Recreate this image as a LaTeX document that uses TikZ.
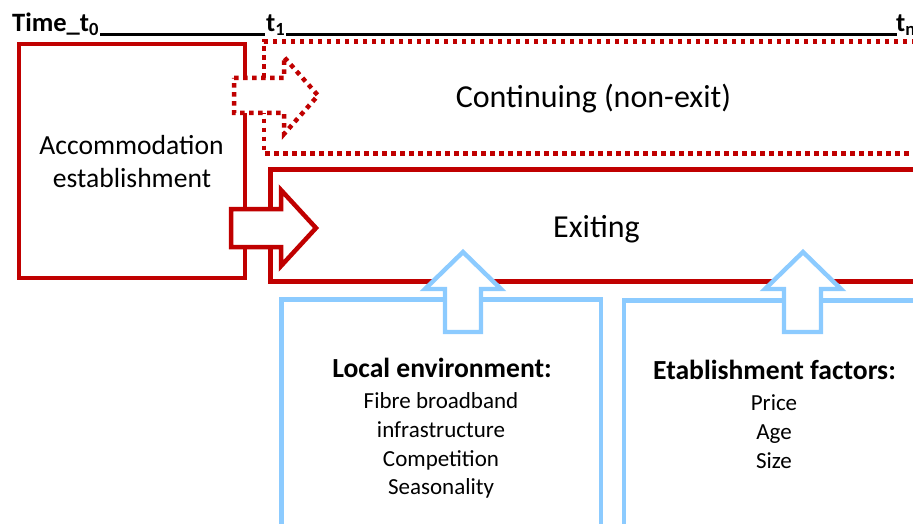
\documentclass[tikz,border=0pt]{standalone}
\usepackage{fontspec}
\setmainfont{Carlito}
\definecolor{myred}{RGB}{192,0,0}
\definecolor{myblue}{RGB}{140,203,255}
\begin{document}
\begin{tikzpicture}[x=1pt,y=-1pt,
  redline/.style={draw=myred, line width=4.5pt},
  reddot/.style={draw=myred, line width=4.5pt, dash pattern=on 4.5pt off 4.5pt},
  blueline/.style={draw=myblue, line width=4.4pt},
  txt/.style={anchor=base, inner sep=0pt},
  big/.style={txt, font=\fontsize{32}{38}\selectfont},
  mid/.style={txt, font=\fontsize{27.6}{32}\selectfont},
  head/.style={txt, font=\fontsize{27.6}{32}\selectfont\bfseries},
  item/.style={txt, font=\fontsize{23}{28}\selectfont},
  timelbl/.style={anchor=base west, inner sep=0pt, font=\fontsize{26.5}{30}\selectfont\bfseries},
  rulerline/.style={draw=black, line width=2.4pt}
]
\useasboundingbox (0,0) rectangle (913,524);
\clip (0,0) rectangle (913,524);

% time axis
\node[timelbl] (t0) at (12,32) {Time\_t\textsubscript{0}};
\node[timelbl] (t1) at (266,32) {t\textsubscript{1}};
\node[timelbl] (tn) at (896,32) {t\textsubscript{n}};
\coordinate (r0a) at (100,34.5);
\coordinate (r0b) at (265,34.5);
\coordinate (r1a) at (286,34.5);
\coordinate (r1b) at (897,34.5);
\draw[rulerline] (r0a) -- (r0b);
\draw[rulerline] (r1a) -- (r1b);

% boxes
\draw[redline] (19,44) rectangle (245,278);
\draw[reddot] (925,41.5) -- (264,41.5) -- (264,153.5) -- (925,153.5);
\draw[redline] (925,169.5) -- (270.5,169.5) -- (270.5,281.5) -- (925,281.5);

% red arrows
\draw[reddot, fill=white] (234,78) -- (284,78) -- (284,57) -- (318,95.5) -- (284,134) -- (284,113) -- (234,113) -- cycle;
\draw[redline, fill=white] (231,209) -- (281,209) -- (281,190) -- (316,228) -- (281,266) -- (281,247) -- (231,247) -- cycle;

% blue boxes
\draw[blueline] (281.5,540) -- (281.5,299.5) -- (601,299.5) -- (601,540);
\draw[blueline] (624,540) -- (624,300.5) -- (925,300.5);

% blue arrows
\draw[blueline, fill=white] (445,332) -- (445,289) -- (425,289) -- (463,252) -- (501,289) -- (481,289) -- (481,332) -- cycle;
\draw[blueline, fill=white] (784,332) -- (784,289) -- (765,289) -- (803,252) -- (841,289) -- (821,289) -- (821,332) -- cycle;

% texts
\node[big] (cont) at (593.5,108) {Continuing (non-exit)};
\node[big] (exit) at (596.5,237) {Exiting};
\node[mid] (acc1) at (131.5,155) {Accommodation};
\node[mid] (acc2) at (132,187) {establishment};

\node[head] (loc) at (442,377) {Local environment:};
\node[item] (loc1) at (441,408) {Fibre broadband};
\node[item] (loc2) at (441,437) {infrastructure};
\node[item] (loc3) at (441,466) {Competition};
\node[item] (loc4) at (441,494) {Seasonality};

\node[head] (est) at (774.5,379) {Etablishment factors:};
\node[item] (est1) at (774,410) {Price};
\node[item] (est2) at (774,439) {Age};
\node[item] (est3) at (774,468) {Size};
\end{tikzpicture}
\end{document}
